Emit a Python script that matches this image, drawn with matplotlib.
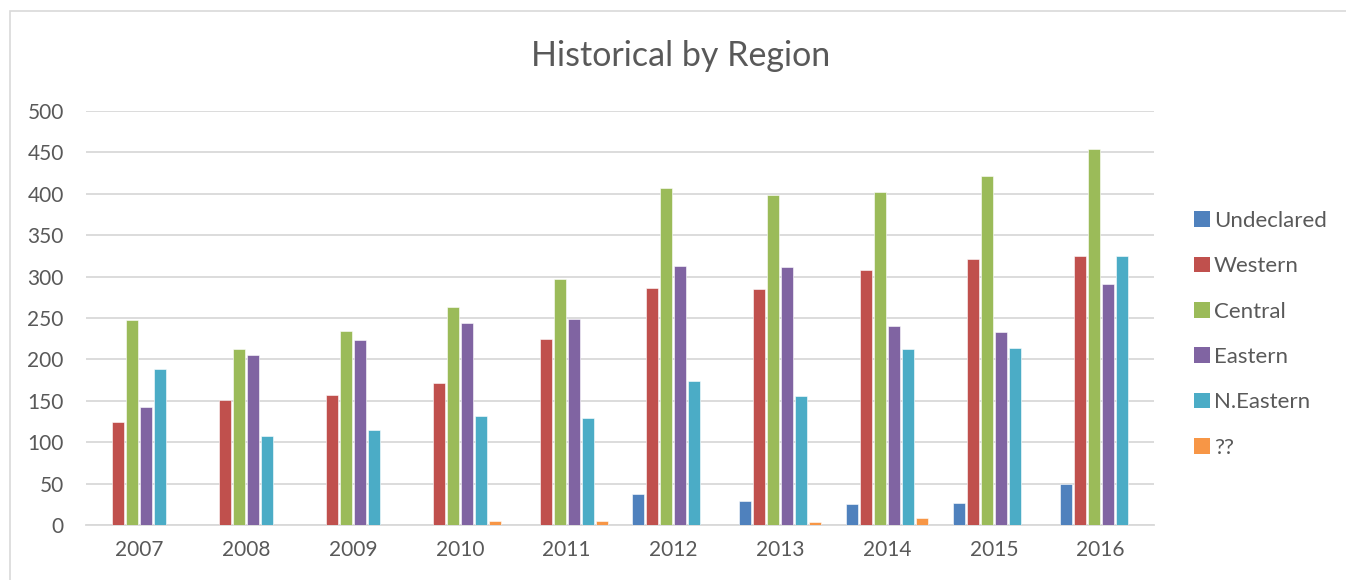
import matplotlib.pyplot as plt
import numpy as np
from matplotlib.patches import Patch, Rectangle

years = ['2007', '2008', '2009', '2010', '2011', '2012', '2013', '2014', '2015', '2016']
series_names = ['Undeclared', 'Western', 'Central', 'Eastern', 'N.Eastern', '??']

undeclared = [0, 0, 0, 0, 0, 37, 29, 25, 27, 49]
western = [125, 151, 157, 172, 225, 286, 285, 308, 321, 325]
central = [247, 213, 234, 263, 297, 407, 399, 402, 422, 454]
eastern = [143, 205, 223, 244, 249, 313, 311, 240, 233, 291]
n_eastern = [188, 108, 115, 132, 129, 174, 156, 213, 214, 325]
unknown = [0, 0, 0, 5, 5, 0, 4, 9, 0, 0]

colores = ['#4F81BD', '#C0504D', '#9BBB59', '#8064A2', '#4BACC6', '#F79646']
texto = '#595959'
gris = '#D9D9D9'

plt.rcParams['font.family'] = ['Lato', 'DejaVu Sans']

fig = plt.figure(figsize=(13.46, 5.8), dpi=100)
ax = fig.add_axes([86 / 1346, 1 - 525 / 580, (1154 - 86) / 1346, (525 - 111) / 580])

# marco exterior del grafico
fig.patches.append(Rectangle((10 / 1346, -0.1), 1.2, 1 - 11 / 580 + 0.1,
                             transform=fig.transFigure, fill=False,
                             edgecolor=gris, linewidth=1.2))

datos = [undeclared, western, central, eastern, n_eastern, unknown]
x = np.arange(len(years))
paso = 0.131
ancho = 0.112
for i in range(len(datos)):
    ax.bar(x + (i - 2.5) * paso, datos[i], width=ancho, color=colores[i],
           edgecolor='white', linewidth=0.4, zorder=3)

ax.set_xlim(-0.5, len(years) - 0.5)
ax.set_ylim(0, 500)
ax.set_yticks(np.arange(0, 501, 50))
ax.set_xticks(x)
ax.set_xticklabels(years)
ax.yaxis.grid(True, color=gris, linewidth=1.3, zorder=0)
ax.set_axisbelow(True)
for s in ['top', 'right', 'left']:
    ax.spines[s].set_visible(False)
ax.spines['bottom'].set_color(gris)
ax.spines['bottom'].set_linewidth(1.3)
ax.tick_params(axis='both', length=0, labelsize=15, colors=texto)
ax.tick_params(axis='x', pad=11)
ax.tick_params(axis='y', pad=16)

fig.text(681 / 1346, 1 - 56 / 580, 'Historical by Region', ha='center', va='center',
         fontsize=24.5, color=texto)

handles = [Patch(facecolor=colores[i], edgecolor='none') for i in range(len(series_names))]
fig.legend(handles, series_names, loc='upper left',
           bbox_to_anchor=(1174 / 1346, 1 - 191 / 580), frameon=False,
           fontsize=16, labelcolor=texto, handlelength=0.7, handleheight=0.7,
           handletextpad=0.2, labelspacing=1.14)

plt.savefig('out.png', dpi=100)
